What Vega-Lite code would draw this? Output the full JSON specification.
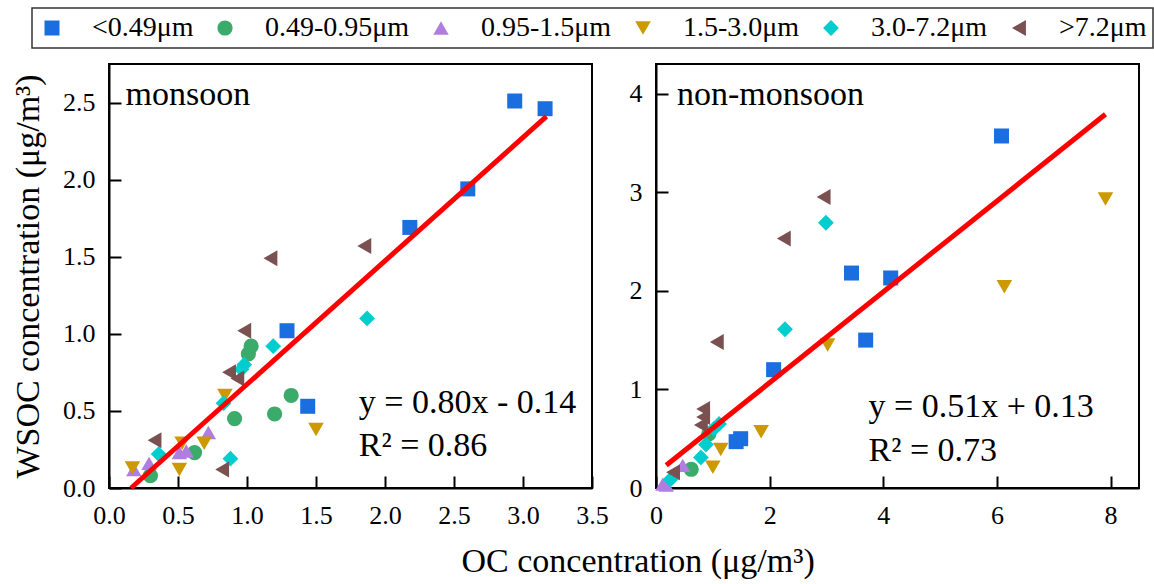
{
  "$schema": "https://vega.github.io/schema/vega-lite/v6.json",
  "background": "white",
  "padding": {"left": 10, "top": 7, "right": 8, "bottom": 5},
  "spacing": 18,
  "datasets": {
    "pts": [
      {"p": "m", "s": "<0.49μm", "x": 2.94, "y": 2.51},
      {"p": "m", "s": "<0.49μm", "x": 3.16, "y": 2.46},
      {"p": "m", "s": "<0.49μm", "x": 2.60, "y": 1.94},
      {"p": "m", "s": "<0.49μm", "x": 2.18, "y": 1.69},
      {"p": "m", "s": "<0.49μm", "x": 1.29, "y": 1.02},
      {"p": "m", "s": "<0.49μm", "x": 1.44, "y": 0.53},
      {"p": "m", "s": "0.49-0.95μm", "x": 1.03, "y": 0.92},
      {"p": "m", "s": "0.49-0.95μm", "x": 1.01, "y": 0.87},
      {"p": "m", "s": "0.49-0.95μm", "x": 0.91, "y": 0.45},
      {"p": "m", "s": "0.49-0.95μm", "x": 1.20, "y": 0.48},
      {"p": "m", "s": "0.49-0.95μm", "x": 1.32, "y": 0.60},
      {"p": "m", "s": "0.49-0.95μm", "x": 0.62, "y": 0.23},
      {"p": "m", "s": "0.49-0.95μm", "x": 0.30, "y": 0.08},
      {"p": "m", "s": "0.95-1.5μm", "x": 0.72, "y": 0.36},
      {"p": "m", "s": "0.95-1.5μm", "x": 0.51, "y": 0.23},
      {"p": "m", "s": "0.95-1.5μm", "x": 0.56, "y": 0.24},
      {"p": "m", "s": "0.95-1.5μm", "x": 0.29, "y": 0.16},
      {"p": "m", "s": "0.95-1.5μm", "x": 0.18, "y": 0.12},
      {"p": "m", "s": "1.5-3.0μm", "x": 0.84, "y": 0.60},
      {"p": "m", "s": "1.5-3.0μm", "x": 1.50, "y": 0.38},
      {"p": "m", "s": "1.5-3.0μm", "x": 0.69, "y": 0.29},
      {"p": "m", "s": "1.5-3.0μm", "x": 0.53, "y": 0.29},
      {"p": "m", "s": "1.5-3.0μm", "x": 0.51, "y": 0.12},
      {"p": "m", "s": "1.5-3.0μm", "x": 0.17, "y": 0.13},
      {"p": "m", "s": "3.0-7.2μm", "x": 1.87, "y": 1.10},
      {"p": "m", "s": "3.0-7.2μm", "x": 1.19, "y": 0.92},
      {"p": "m", "s": "3.0-7.2μm", "x": 0.98, "y": 0.80},
      {"p": "m", "s": "3.0-7.2μm", "x": 0.96, "y": 0.77},
      {"p": "m", "s": "3.0-7.2μm", "x": 0.83, "y": 0.55},
      {"p": "m", "s": "3.0-7.2μm", "x": 0.36, "y": 0.22},
      {"p": "m", "s": "3.0-7.2μm", "x": 0.88, "y": 0.19},
      {"p": "m", "s": ">7.2μm", "x": 1.85, "y": 1.57},
      {"p": "m", "s": ">7.2μm", "x": 1.17, "y": 1.49},
      {"p": "m", "s": ">7.2μm", "x": 0.98, "y": 1.02},
      {"p": "m", "s": ">7.2μm", "x": 0.87, "y": 0.75},
      {"p": "m", "s": ">7.2μm", "x": 0.93, "y": 0.71},
      {"p": "m", "s": ">7.2μm", "x": 0.33, "y": 0.31},
      {"p": "m", "s": ">7.2μm", "x": 0.82, "y": 0.12},
      {"p": "n", "s": "<0.49μm", "x": 6.08, "y": 3.57},
      {"p": "n", "s": "<0.49μm", "x": 3.44, "y": 2.18},
      {"p": "n", "s": "<0.49μm", "x": 4.13, "y": 2.13},
      {"p": "n", "s": "<0.49μm", "x": 3.69, "y": 1.50},
      {"p": "n", "s": "<0.49μm", "x": 2.07, "y": 1.20},
      {"p": "n", "s": "<0.49μm", "x": 1.49, "y": 0.50},
      {"p": "n", "s": "<0.49μm", "x": 1.41, "y": 0.47},
      {"p": "n", "s": "0.49-0.95μm", "x": 0.93, "y": 0.55},
      {"p": "n", "s": "0.49-0.95μm", "x": 0.62, "y": 0.19},
      {"p": "n", "s": "0.95-1.5μm", "x": 0.47, "y": 0.23},
      {"p": "n", "s": "0.95-1.5μm", "x": 0.12, "y": 0.04},
      {"p": "n", "s": "0.95-1.5μm", "x": 0.18, "y": 0.03},
      {"p": "n", "s": "1.5-3.0μm", "x": 7.91, "y": 2.93},
      {"p": "n", "s": "1.5-3.0μm", "x": 6.13, "y": 2.04},
      {"p": "n", "s": "1.5-3.0μm", "x": 3.02, "y": 1.45},
      {"p": "n", "s": "1.5-3.0μm", "x": 1.85, "y": 0.57},
      {"p": "n", "s": "1.5-3.0μm", "x": 1.14, "y": 0.39},
      {"p": "n", "s": "1.5-3.0μm", "x": 1.00, "y": 0.21},
      {"p": "n", "s": "3.0-7.2μm", "x": 2.99, "y": 2.69},
      {"p": "n", "s": "3.0-7.2μm", "x": 2.27, "y": 1.61},
      {"p": "n", "s": "3.0-7.2μm", "x": 1.11, "y": 0.65},
      {"p": "n", "s": "3.0-7.2μm", "x": 1.02, "y": 0.60},
      {"p": "n", "s": "3.0-7.2μm", "x": 0.88, "y": 0.44},
      {"p": "n", "s": "3.0-7.2μm", "x": 0.79, "y": 0.31},
      {"p": "n", "s": "3.0-7.2μm", "x": 0.26, "y": 0.09},
      {"p": "n", "s": ">7.2μm", "x": 2.95, "y": 2.95},
      {"p": "n", "s": ">7.2μm", "x": 2.25, "y": 2.53},
      {"p": "n", "s": ">7.2μm", "x": 1.07, "y": 1.48},
      {"p": "n", "s": ">7.2μm", "x": 0.83, "y": 0.80},
      {"p": "n", "s": ">7.2μm", "x": 0.83, "y": 0.72},
      {"p": "n", "s": ">7.2μm", "x": 0.79, "y": 0.64},
      {"p": "n", "s": ">7.2μm", "x": 0.30, "y": 0.16}
    ],
    "fit": [
      {"p": "m", "x": 0.16, "y": 0.0},
      {"p": "m", "x": 3.17, "y": 2.41},
      {"p": "n", "x": 0.18, "y": 0.23},
      {"p": "n", "x": 7.91, "y": 3.79}
    ],
    "names": [
      {"p": "m", "t": "monsoon", "x": 0.12, "y": 2.55},
      {"p": "n", "t": "non-monsoon", "x": 0.37, "y": 3.99}
    ],
    "eqs": [
      {"p": "m", "t": "y = 0.80x - 0.14", "x": 1.81, "y": 0.55},
      {"p": "m", "t": "R² = 0.86", "x": 1.81, "y": 0.27},
      {"p": "n", "t": "y = 0.51x + 0.13", "x": 3.74, "y": 0.82},
      {"p": "n", "t": "R² = 0.73", "x": 3.74, "y": 0.38}
    ]
  },
  "title": {
    "text": "OC concentration (μg/m³)",
    "orient": "bottom",
    "anchor": "middle",
    "font": "Liberation Serif",
    "fontSize": 34,
    "fontWeight": "normal",
    "color": "black",
    "offset": 16,
    "dx": 56
  },
  "config": {
    "font": "Liberation Serif",
    "view": {"stroke": "black", "strokeWidth": 2},
    "style": {
      "guide-label": {"font": "Liberation Serif"},
      "guide-title": {"font": "Liberation Serif"}
    },
    "axis": {
      "grid": false,
      "domainColor": "black",
      "domainWidth": 2,
      "tickColor": "black",
      "tickWidth": 2,
      "tickSize": -12,
      "labelPadding": 26,
      "labelFlush": false,
      "labelOverlap": false,
      "labelFont": "Liberation Serif",
      "labelFontSize": 26,
      "labelColor": "black",
      "titleFont": "Liberation Serif",
      "titleFontSize": 34,
      "titleFontWeight": "normal",
      "titleColor": "black"
    },
    "legend": {
      "orient": "none",
      "legendX": -77,
      "legendY": -56,
      "direction": "horizontal",
      "columns": 6,
      "strokeColor": "#333333",
      "strokeWidth": 1.5,
      "padding": 6,
      "labelFont": "Liberation Serif",
      "labelFontSize": 28,
      "labelColor": "black",
      "labelOffset": 26,
      "columnPadding": 17,
      "symbolSize": 240,
      "symbolStrokeWidth": 0,
      "symbolOpacity": 1,
      "title": null
    }
  },
  "hconcat": [
    {
      "width": 483,
      "height": 424,
      "layer": [
        {
          "data": {"name": "pts"},
          "transform": [{"filter": "datum.p === 'm'"}],
          "mark": {"type": "point", "filled": true, "opacity": 1},
          "encoding": {
            "x": {"field": "x", "type": "quantitative", "scale": {"domain": [0, 3.5], "nice": false, "zero": false},
                  "axis": {"values": [0, 0.5, 1, 1.5, 2, 2.5, 3, 3.5], "format": ".1f", "title": null}},
            "y": {"field": "y", "type": "quantitative", "scale": {"domain": [0, 2.75], "nice": false, "zero": false},
                  "axis": {"values": [0, 0.5, 1, 1.5, 2, 2.5], "format": ".1f", "title": "WSOC concentration (μg/m³)", "titlePadding": 17}},
            "color": {"field": "s", "type": "nominal", "title": null,
                      "scale": {"domain": ["<0.49μm", "0.49-0.95μm", "0.95-1.5μm", "1.5-3.0μm", "3.0-7.2μm", ">7.2μm"],
                                "range": ["#1b6ee0", "#3aab6b", "#b07de0", "#cc9a00", "#00cdcd", "#7b5050"]}},
            "shape": {"field": "s", "type": "nominal", "title": null,
                      "scale": {"domain": ["<0.49μm", "0.49-0.95μm", "0.95-1.5μm", "1.5-3.0μm", "3.0-7.2μm", ">7.2μm"],
                                "range": ["square", "circle", "triangle-up", "triangle-down", "diamond", "triangle-left"]}},
            "size": {"field": "s", "type": "nominal", "title": null,
                     "scale": {"domain": ["<0.49μm", "0.49-0.95μm", "0.95-1.5μm", "1.5-3.0μm", "3.0-7.2μm", ">7.2μm"],
                               "range": [225, 256, 340, 340, 361, 324]}}
          }
        },
        {
          "data": {"name": "fit"},
          "transform": [{"filter": "datum.p === 'm'"}],
          "mark": {"type": "line", "color": "#ff0000", "strokeWidth": 5},
          "encoding": {
            "x": {"field": "x", "type": "quantitative"},
            "y": {"field": "y", "type": "quantitative"}
          }
        },
        {
          "data": {"name": "names"},
          "transform": [{"filter": "datum.p === 'm'"}],
          "mark": {"type": "text", "align": "left", "baseline": "middle", "fontSize": 34, "font": "Liberation Serif", "color": "black"},
          "encoding": {
            "x": {"field": "x", "type": "quantitative"},
            "y": {"field": "y", "type": "quantitative"},
            "text": {"field": "t"}
          }
        },
        {
          "data": {"name": "eqs"},
          "transform": [{"filter": "datum.p === 'm'"}],
          "mark": {"type": "text", "align": "left", "baseline": "middle", "fontSize": 34, "font": "Liberation Serif", "color": "black"},
          "encoding": {
            "x": {"field": "x", "type": "quantitative"},
            "y": {"field": "y", "type": "quantitative"},
            "text": {"field": "t"}
          }
        }
      ]
    },
    {
      "width": 483,
      "height": 424,
      "layer": [
        {
          "data": {"name": "pts"},
          "transform": [{"filter": "datum.p === 'n'"}],
          "mark": {"type": "point", "filled": true, "opacity": 1},
          "encoding": {
            "x": {"field": "x", "type": "quantitative", "scale": {"domain": [0, 8.5], "nice": false, "zero": false},
                  "axis": {"values": [0, 2, 4, 6, 8], "format": "d", "title": null}},
            "y": {"field": "y", "type": "quantitative", "scale": {"domain": [0, 4.3], "nice": false, "zero": false},
                  "axis": {"values": [0, 1, 2, 3, 4], "format": "d", "title": null}},
            "color": {"field": "s", "type": "nominal", "title": null,
                      "scale": {"domain": ["<0.49μm", "0.49-0.95μm", "0.95-1.5μm", "1.5-3.0μm", "3.0-7.2μm", ">7.2μm"],
                                "range": ["#1b6ee0", "#3aab6b", "#b07de0", "#cc9a00", "#00cdcd", "#7b5050"]}},
            "shape": {"field": "s", "type": "nominal", "title": null,
                      "scale": {"domain": ["<0.49μm", "0.49-0.95μm", "0.95-1.5μm", "1.5-3.0μm", "3.0-7.2μm", ">7.2μm"],
                                "range": ["square", "circle", "triangle-up", "triangle-down", "diamond", "triangle-left"]}},
            "size": {"field": "s", "type": "nominal", "title": null,
                     "scale": {"domain": ["<0.49μm", "0.49-0.95μm", "0.95-1.5μm", "1.5-3.0μm", "3.0-7.2μm", ">7.2μm"],
                               "range": [225, 256, 340, 340, 361, 324]}}
          }
        },
        {
          "data": {"name": "fit"},
          "transform": [{"filter": "datum.p === 'n'"}],
          "mark": {"type": "line", "color": "#ff0000", "strokeWidth": 5},
          "encoding": {
            "x": {"field": "x", "type": "quantitative"},
            "y": {"field": "y", "type": "quantitative"}
          }
        },
        {
          "data": {"name": "names"},
          "transform": [{"filter": "datum.p === 'n'"}],
          "mark": {"type": "text", "align": "left", "baseline": "middle", "fontSize": 34, "font": "Liberation Serif", "color": "black"},
          "encoding": {
            "x": {"field": "x", "type": "quantitative"},
            "y": {"field": "y", "type": "quantitative"},
            "text": {"field": "t"}
          }
        },
        {
          "data": {"name": "eqs"},
          "transform": [{"filter": "datum.p === 'n'"}],
          "mark": {"type": "text", "align": "left", "baseline": "middle", "fontSize": 34, "font": "Liberation Serif", "color": "black"},
          "encoding": {
            "x": {"field": "x", "type": "quantitative"},
            "y": {"field": "y", "type": "quantitative"},
            "text": {"field": "t"}
          }
        }
      ]
    }
  ]
}
